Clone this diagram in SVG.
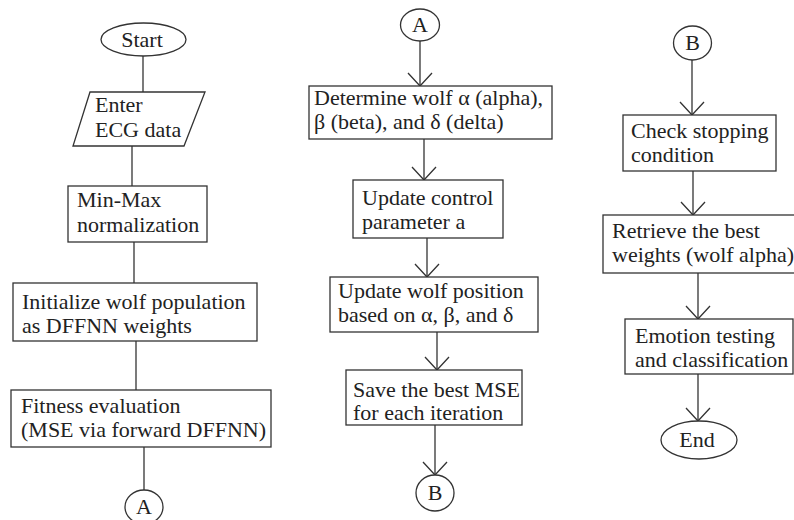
<svg xmlns="http://www.w3.org/2000/svg" width="794" height="520" viewBox="0 0 794 520">
  <defs>
    <style>
      .shape { fill: #ffffff; stroke: #333333; stroke-width: 1.3; }
      .link { fill: none; stroke: #333333; stroke-width: 1.3; }
      .label { font-family: "Liberation Serif", "Times New Roman", serif; font-size: 22px; fill: #222222; }
      .mid { text-anchor: middle; }
    </style>
    <marker id="vee" markerUnits="userSpaceOnUse" markerWidth="30" markerHeight="30" refX="0" refY="0" viewBox="-15 -15 30 30" orient="auto" overflow="visible">
      <path d="M-13,-12 L0,0 L-13,12" fill="none" stroke="#333333" stroke-width="1.3"/>
    </marker>
  </defs>
  <rect width="794" height="520" fill="#ffffff"/>

  <!-- connectors -->
  <g id="connectors">
    <!-- column 1: plain lines -->
    <path class="link" d="M143,56 V92"/>
    <path class="link" d="M132,146 V186"/>
    <path class="link" d="M134,242 V283"/>
    <path class="link" d="M136,341 V390"/>
    <path class="link" d="M144,447 V490"/>
    <!-- column 2 -->
    <path class="link" d="M420,41 V86" marker-end="url(#vee)"/>
    <path class="link" d="M424,139 V180" marker-end="url(#vee)"/>
    <path class="link" d="M427,238 V277" marker-end="url(#vee)"/>
    <path class="link" d="M437,332 V370" marker-end="url(#vee)"/>
    <path class="link" d="M435,425 V475" marker-end="url(#vee)"/>
    <!-- column 3 -->
    <path class="link" d="M692,60 V115" marker-end="url(#vee)"/>
    <path class="link" d="M693,171 V215" marker-end="url(#vee)"/>
    <path class="link" d="M698,273 V319" marker-end="url(#vee)"/>
    <path class="link" d="M698,374 V421" marker-end="url(#vee)"/>
  </g>

  <!-- column 1 -->
  <g id="start">
    <ellipse class="shape" cx="143.5" cy="39.5" rx="42.5" ry="16.5"/>
    <text class="label mid" x="142" y="47">Start</text>
  </g>
  <g id="enter-ecg">
    <polygon class="shape" points="90,92 205,92 184,146 73,146"/>
    <text class="label" x="95" y="112">Enter</text>
    <text class="label" x="95" y="137">ECG data</text>
  </g>
  <g id="normalize">
    <rect class="shape" x="68" y="186" width="139" height="56"/>
    <text class="label" x="77" y="207">Min-Max</text>
    <text class="label" x="77" y="232">normalization</text>
  </g>
  <g id="init-population">
    <rect class="shape" x="13" y="283" width="244" height="58"/>
    <text class="label" x="22" y="309">Initialize wolf population</text>
    <text class="label" x="22" y="333">as DFFNN weights</text>
  </g>
  <g id="fitness">
    <rect class="shape" x="11" y="390" width="260" height="57"/>
    <text class="label" x="21" y="413">Fitness evaluation</text>
    <text class="label" x="21" y="437">(MSE via forward DFFNN)</text>
  </g>
  <g id="connector-a-out">
    <ellipse class="shape" cx="144" cy="507" rx="19" ry="17"/>
    <text class="label mid" x="144" y="514">A</text>
  </g>

  <!-- column 2 -->
  <g id="connector-a-in">
    <ellipse class="shape" cx="420" cy="25" rx="19.5" ry="16"/>
    <text class="label mid" x="420" y="32">A</text>
  </g>
  <g id="determine-leaders">
    <rect class="shape" x="309" y="86" width="243" height="53"/>
    <text class="label" x="314" y="105">Determine wolf α (alpha),</text>
    <text class="label" x="314" y="129">β (beta), and δ (delta)</text>
  </g>
  <g id="update-a">
    <rect class="shape" x="353" y="180" width="150" height="58"/>
    <text class="label" x="362" y="205">Update control</text>
    <text class="label" x="362" y="229">parameter a</text>
  </g>
  <g id="update-position">
    <rect class="shape" x="330" y="277" width="208" height="55"/>
    <text class="label" x="338" y="298">Update wolf position</text>
    <text class="label" x="338" y="322">based on α, β, and δ</text>
  </g>
  <g id="save-mse">
    <rect class="shape" x="346" y="370" width="176" height="55"/>
    <text class="label" x="353" y="397">Save the best MSE</text>
    <text class="label" x="353" y="420">for each iteration</text>
  </g>
  <g id="connector-b-out">
    <ellipse class="shape" cx="435" cy="493" rx="19" ry="18"/>
    <text class="label mid" x="435" y="500">B</text>
  </g>

  <!-- column 3 -->
  <g id="connector-b-in">
    <ellipse class="shape" cx="692.5" cy="43" rx="19" ry="17"/>
    <text class="label mid" x="692.5" y="50">B</text>
  </g>
  <g id="check-stop">
    <rect class="shape" x="623" y="115" width="153" height="56"/>
    <text class="label" x="631" y="138">Check stopping</text>
    <text class="label" x="631" y="162">condition</text>
  </g>
  <g id="retrieve-best">
    <rect class="shape" x="603" y="215" width="194" height="58"/>
    <text class="label" x="612" y="238">Retrieve the best</text>
    <text class="label" x="612" y="262">weights (wolf alpha)</text>
  </g>
  <g id="emotion-test">
    <rect class="shape" x="625" y="319" width="168" height="55"/>
    <text class="label" x="635" y="343">Emotion testing</text>
    <text class="label" x="635" y="367">and classification</text>
  </g>
  <g id="end">
    <ellipse class="shape" cx="699" cy="440" rx="38" ry="19"/>
    <text class="label mid" x="697" y="447">End</text>
  </g>
</svg>
